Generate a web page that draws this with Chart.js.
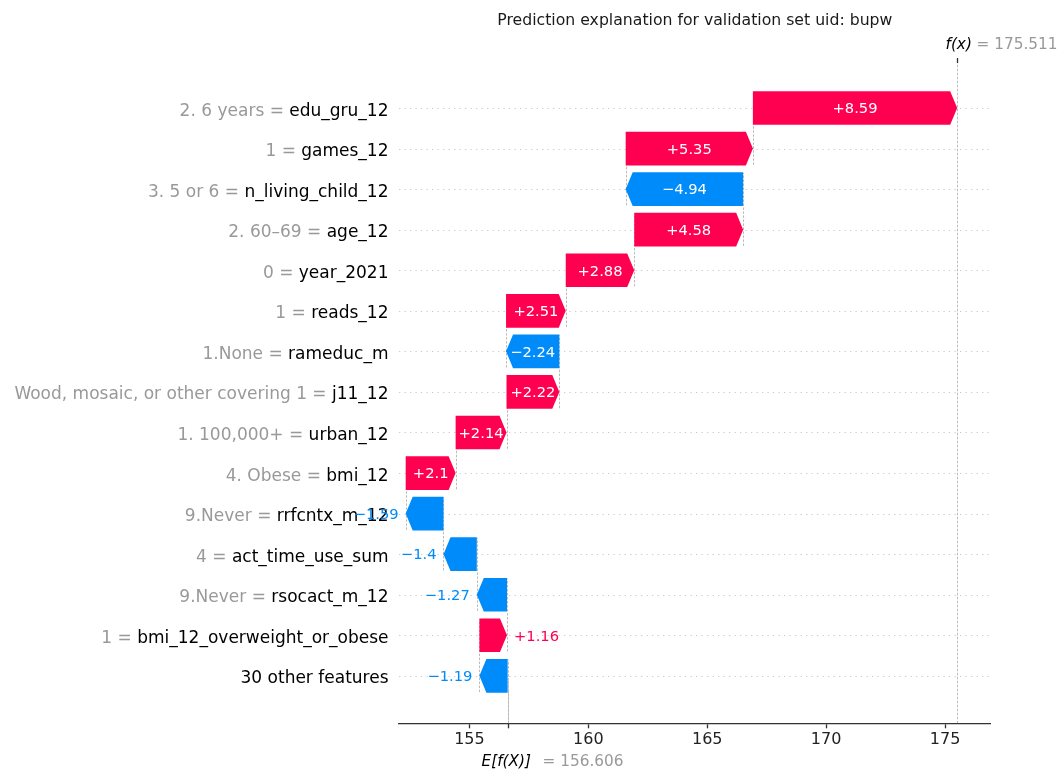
<!DOCTYPE html>
<html>
<head>
<meta charset="utf-8">
<script src="https://cdn.jsdelivr.net/npm/chart.js@4.4.1/dist/chart.umd.min.js"></script>
<style>
  html, body { margin: 0; padding: 0; background: #fff; }
  canvas { display: block; }
</style>
</head>
<body>
<canvas id="chart" width="1062" height="774"></canvas>
<script>
// Rows from top to bottom, as shap lists them
const featureNames = [
  'edu_gru_12', 'games_12', 'n_living_child_12', 'age_12', 'year_2021',
  'reads_12', 'rameduc_m', 'j11_12', 'urban_12', 'bmi_12',
  'rrfcntx_m_12', 'act_time_use_sum', 'rsocact_m_12', 'bmi_12_overweight_or_obese',
  '30 other features'
];
const featureValues = [
  '2. 6 years', '1', '3. 5 or 6', '2. 60\u201369', '0',
  '1', '1.None', 'Wood, mosaic, or other covering 1', '1. 100,000+', '4. Obese',
  '9.Never', '4', '9.Never', '1',
  ''
];
const shapValues = [
  8.59, 5.35, -4.94, 4.58, 2.88,
  2.51, -2.24, 2.22, 2.14, 2.1,
  -1.59, -1.4, -1.27, 1.16,
  -1.19
];
const baseValue = 156.606;
const fxValue = 175.511;
const xTicks = [155, 160, 165, 170, 175];
const chartTitle = 'Prediction explanation for validation set uid: bupw';

const POS = '#ff0051';
const NEG = '#008bfb';
const FONT = '"DejaVu Sans", sans-serif';

// y position of each row (top row highest)
const rowIndex = shapValues.map((v, i) => shapValues.length - 1 - i);

// walk down from f(x) like the shap waterfall does
const barStarts = [];
let loc = fxValue;
shapValues.forEach(v => { loc -= v; barStarts.push(loc); });

// %+0.02f with trailing zeros stripped, unicode minus
function fmt(v) {
  let s = Math.abs(v).toFixed(2).replace(/0+$/, '').replace(/\.$/, '');
  return (v >= 0 ? '+' : '\u2212') + s;
}

const waterfallPlugin = {
  id: 'waterfall',
  beforeDatasetsDraw(chart) {
    const { ctx, chartArea: a, scales: { x, y } } = chart;
    ctx.save();
    ctx.beginPath();
    ctx.rect(a.left, a.top, a.width, a.height);
    ctx.clip();

    // dotted row lines
    ctx.strokeStyle = '#cccccc';
    ctx.lineWidth = 1;
    ctx.setLineDash([1.3, 4.2]);
    rowIndex.forEach(r => {
      const py = Math.round(y.getPixelForValue(r)) + 0.5;
      ctx.beginPath();
      ctx.moveTo(a.left, py);
      ctx.lineTo(a.right, py);
      ctx.stroke();
    });

    // dashed connectors between bars
    ctx.strokeStyle = '#bbbbbb';
    ctx.setLineDash([2.5, 1.5]);
    const vline = (v, y0, y1) => {
      const px = Math.round(x.getPixelForValue(v)) + 0.5;
      ctx.beginPath();
      ctx.moveTo(px, y0);
      ctx.lineTo(px, y1);
      ctx.stroke();
    };
    rowIndex.forEach((r, i) => {
      vline(barStarts[i], y.getPixelForValue(r - 1.4), y.getPixelForValue(r + 0.4));
    });
    vline(baseValue, a.bottom, a.bottom - a.height / shapValues.length);
    vline(fxValue, a.bottom, a.top);
    ctx.restore();
  },

  afterDatasetsDraw(chart) {
    const { ctx, scales: { x } } = chart;
    const meta = chart.getDatasetMeta(0);
    ctx.save();
    meta.data.forEach((el, i) => {
      const x0 = x.getPixelForValue(barStarts[i]);
      const x1 = x.getPixelForValue(barStarts[i] + shapValues[i]);
      const dir = x1 >= x0 ? 1 : -1;
      const head = Math.min(7, Math.abs(x1 - x0));
      const t = el.y - el.height / 2;
      const b = el.y + el.height / 2;
      ctx.fillStyle = shapValues[i] >= 0 ? POS : NEG;
      ctx.beginPath();
      ctx.moveTo(x0, t);
      ctx.lineTo(x1 - dir * head, t);
      ctx.lineTo(x1, el.y);
      ctx.lineTo(x1 - dir * head, b);
      ctx.lineTo(x0, b);
      ctx.closePath();
      ctx.fill();
    });
    ctx.restore();
  },

  afterDraw(chart) {
    const { ctx, chartArea: a, scales: { x, y } } = chart;
    const meta = chart.getDatasetMeta(0);
    ctx.save();
    ctx.textBaseline = 'alphabetic';

    // feature labels: grey value, black name
    ctx.font = `17px ${FONT}`;
    ctx.textAlign = 'right';
    rowIndex.forEach((r, i) => {
      const py = y.getPixelForValue(r) + 7.5;
      const rx = a.left - 10.5;
      ctx.fillStyle = '#000000';
      ctx.fillText(featureNames[i], rx, py);
      if (featureValues[i]) {
        ctx.fillStyle = '#999999';
        ctx.fillText(featureValues[i] + ' = ', rx - ctx.measureText(featureNames[i]).width, py);
      }
    });

    // value labels, inside when they fit
    ctx.font = `14.7px ${FONT}`;
    meta.data.forEach((el, i) => {
      const v = shapValues[i];
      const txt = fmt(v);
      const x0 = x.getPixelForValue(barStarts[i]);
      const x1 = x.getPixelForValue(barStarts[i] + v);
      const w = ctx.measureText(txt).width;
      const py = el.y + 5.3;
      if (w < Math.abs(x1 - x0)) {
        ctx.fillStyle = '#ffffff';
        ctx.textAlign = 'center';
        ctx.fillText(txt, (x0 + x1) / 2, py);
      } else if (v >= 0) {
        ctx.fillStyle = POS;
        ctx.textAlign = 'left';
        ctx.fillText(txt, x1 + 7, py);
      } else {
        ctx.fillStyle = NEG;
        ctx.textAlign = 'right';
        ctx.fillText(txt, x1 - 7, py);
      }
    });

    // title
    ctx.textAlign = 'center';
    ctx.fillStyle = '#1a1a1a';
    ctx.font = `15.7px ${FONT}`;
    ctx.fillText(chartTitle, (a.left + a.right) / 2, 25);

    // f(x) on top
    const fxPx = Math.round(x.getPixelForValue(fxValue)) + 0.5;
    ctx.strokeStyle = '#333333';
    ctx.lineWidth = 1.3;
    ctx.beginPath();
    ctx.moveTo(fxPx, a.top);
    ctx.lineTo(fxPx, a.top - 5);
    ctx.stroke();
    ctx.textAlign = 'left';
    ctx.fillStyle = '#000000';
    ctx.font = `italic 15.3px ${FONT}`;
    ctx.fillText('f(x)', fxPx - 12, a.top - 14);
    ctx.fillStyle = '#999999';
    ctx.font = `15.3px ${FONT}`;
    ctx.fillText('= ' + fxValue.toFixed(3), fxPx + 19, a.top - 14);

    // E[f(X)] below
    const basePx = Math.round(x.getPixelForValue(baseValue)) + 0.5;
    ctx.beginPath();
    ctx.moveTo(basePx, a.bottom);
    ctx.lineTo(basePx, a.bottom + 5);
    ctx.stroke();
    ctx.fillStyle = '#000000';
    ctx.font = `italic 15.3px ${FONT}`;
    ctx.fillText('E[f(X)]', basePx - 27, a.bottom + 43);
    ctx.fillStyle = '#999999';
    ctx.font = `15.3px ${FONT}`;
    ctx.fillText('= ' + baseValue.toFixed(3), basePx + 34, a.bottom + 43);
    ctx.restore();
  }
};

new Chart(document.getElementById('chart'), {
  type: 'bar',
  data: {
    datasets: [{
      data: rowIndex.map((r, i) => ({ x: [barStarts[i], barStarts[i] + shapValues[i]], y: r })),
      backgroundColor: 'rgba(0,0,0,0)',
      borderWidth: 0,
      barPercentage: 0.83,
      categoryPercentage: 1
    }]
  },
  options: {
    indexAxis: 'y',
    responsive: false,
    animation: false,
    layout: { padding: { left: 399, right: 71.3, top: 63, bottom: 0 } },
    plugins: {
      legend: { display: false },
      tooltip: { enabled: false },
      title: { display: false }
    },
    scales: {
      x: {
        type: 'linear',
        min: 152.04,
        max: 176.92,
        afterBuildTicks: s => { s.ticks = xTicks.map(v => ({ value: v })); },
        afterFit: s => { s.height = 50.7; },
        grid: {
          drawOnChartArea: false,
          drawTicks: true,
          tickLength: 5,
          tickColor: '#333333',
          tickWidth: 1.3
        },
        border: { display: true, color: '#333333', width: 1.3 },
        ticks: {
          color: '#222222',
          font: { family: 'DejaVu Sans', size: 16 },
          padding: 2,
          maxRotation: 0,
          autoSkip: false
        }
      },
      y: {
        type: 'linear',
        display: false,
        offset: false,
        min: -1.17,
        max: 15.11
      }
    }
  },
  plugins: [waterfallPlugin]
});
</script>
</body>
</html>
